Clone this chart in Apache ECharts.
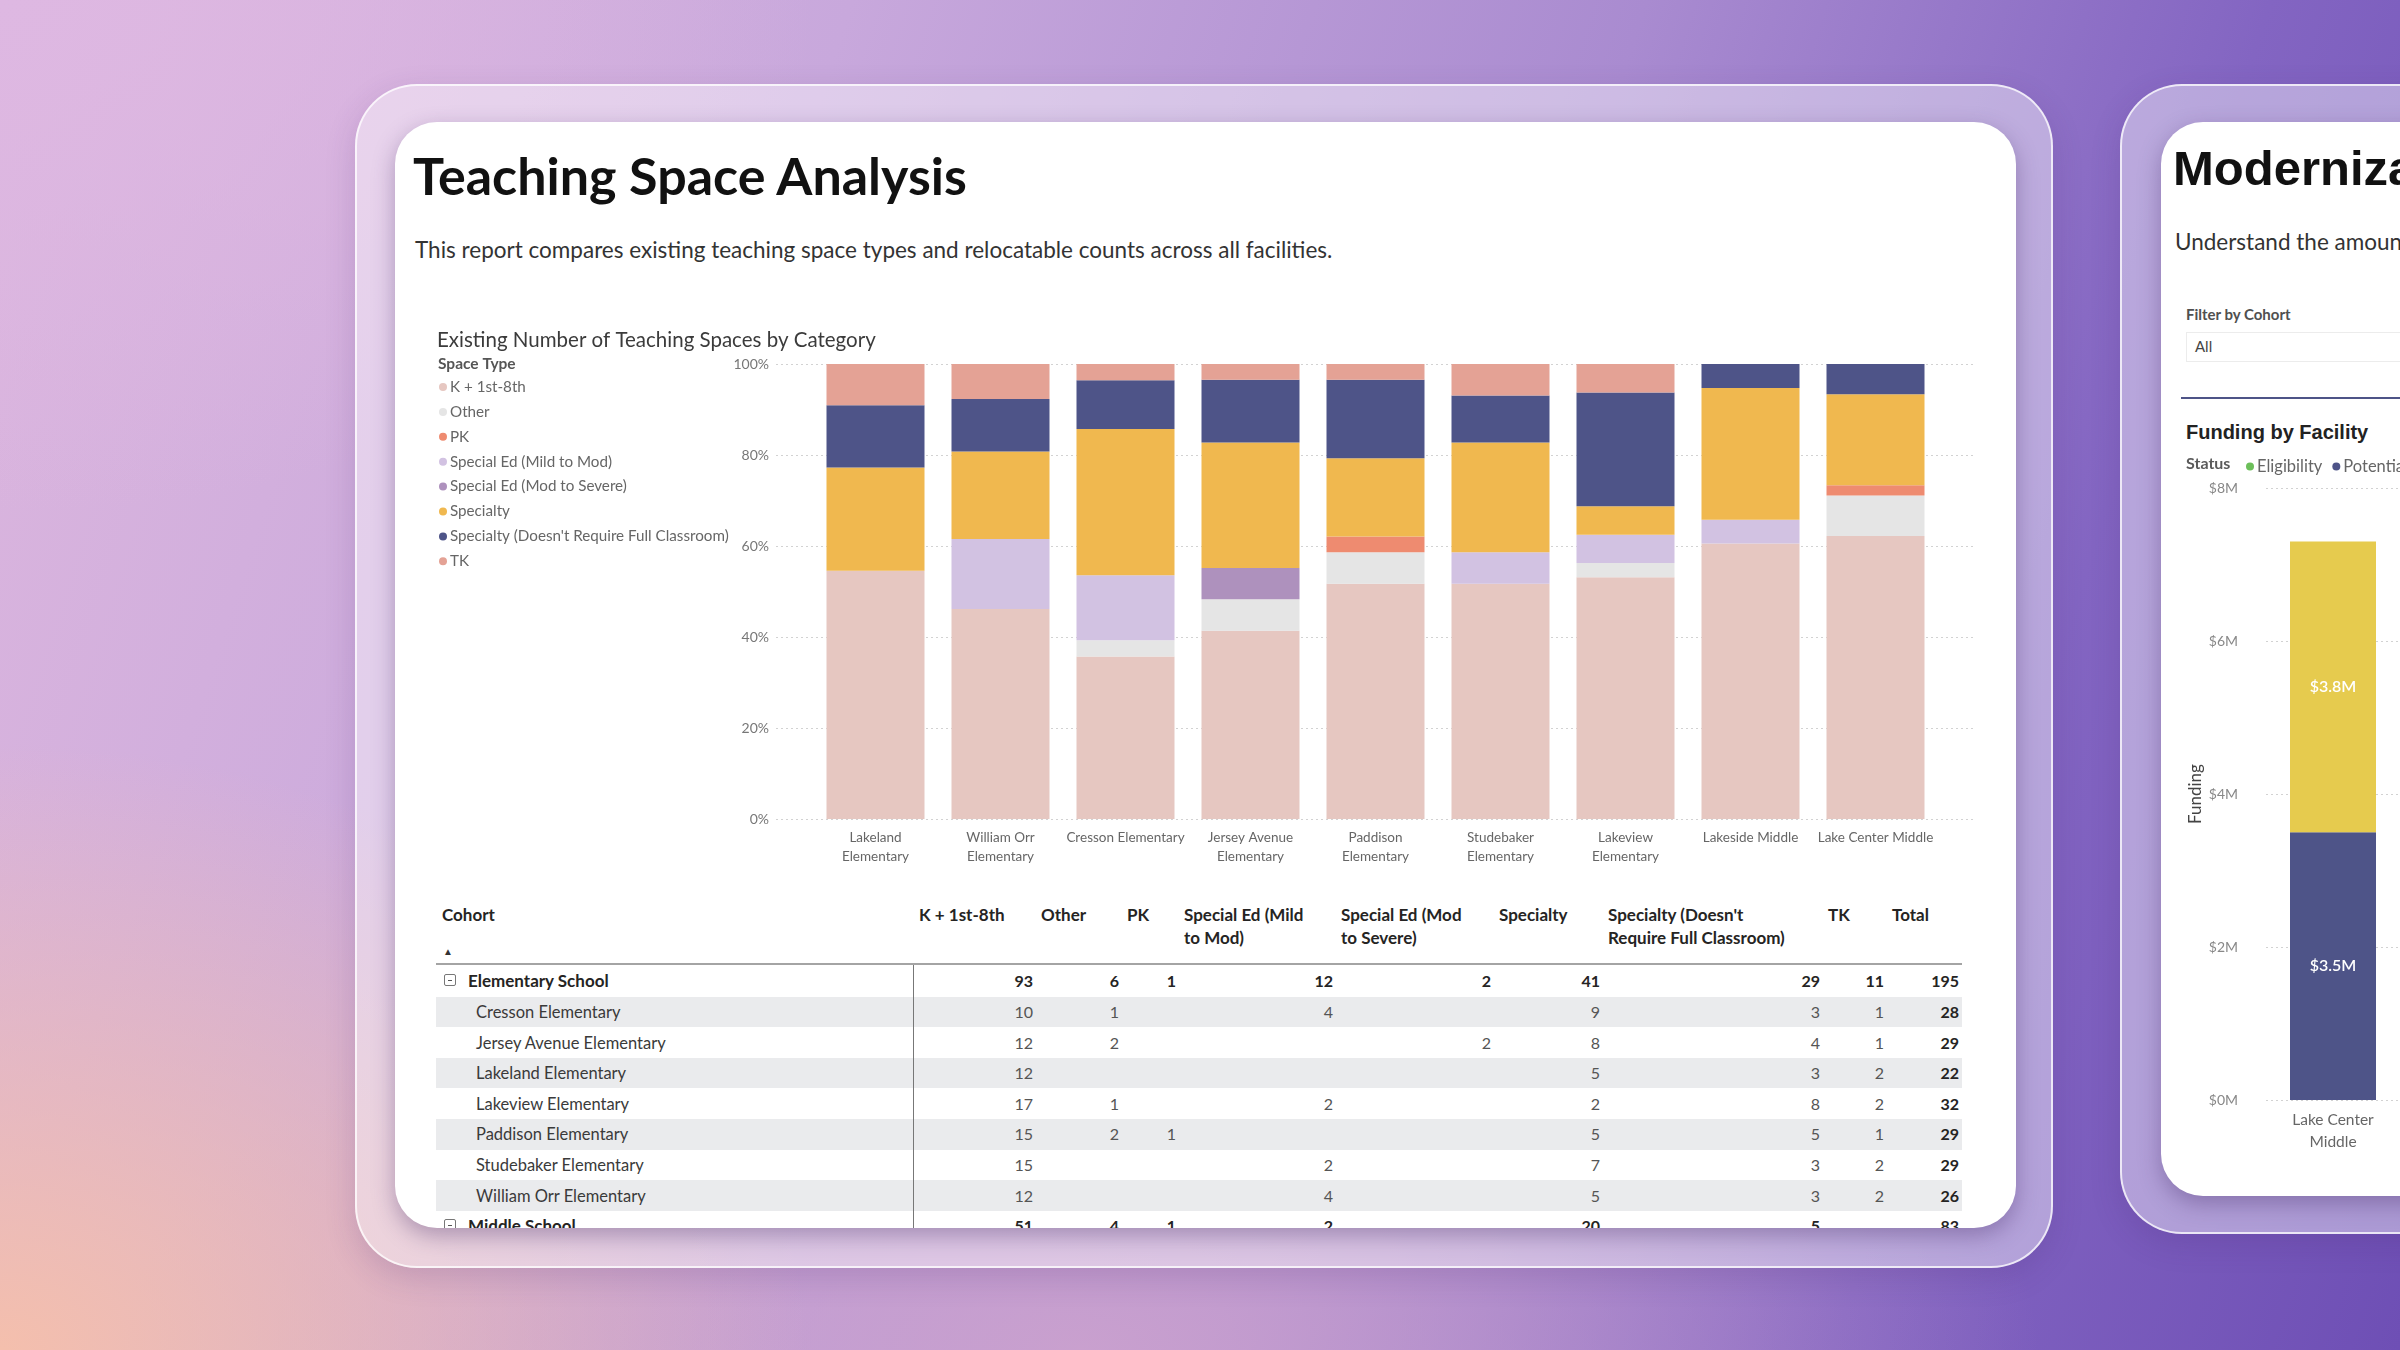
<!DOCTYPE html>
<html>
<head>
<meta charset="utf-8">
<script src="https://cdn.jsdelivr.net/npm/echarts@6/dist/echarts.min.js"></script>
<style>
  html, body { margin: 0; padding: 0; }
  body {
    width: 2400px; height: 1350px; overflow: hidden; position: relative;
    font-family: "Segoe UI", Lato, "Noto Sans", sans-serif;
    background:
      radial-gradient(ellipse 45% 60% at 0% 100%, rgba(246,192,170,0.95), rgba(246,192,170,0) 75%),
      radial-gradient(ellipse 40% 45% at 0% 0%, rgba(222,184,226,1), rgba(222,184,226,0) 85%),
      radial-gradient(ellipse 50% 40% at 45% 100%, rgba(204,162,206,0.9), rgba(204,162,206,0) 80%),
      linear-gradient(108deg, #DCB6DE 0%, #C8A8DC 30%, #A98BD0 58%, #8365C2 80%, #6E4FB5 100%);
  }
  .panel {
    position: absolute; border-radius: 62px;
    background: rgba(255,255,255,0.42);
    border: 2px solid rgba(255,255,255,0.75);
    box-shadow: 0 10px 30px rgba(70,40,110,0.18);
  }
  .card {
    position: absolute; border-radius: 42px; background: #fff; overflow: hidden;
    box-shadow: 0 8px 22px rgba(60,35,95,0.35);
  }
  .abs { position: absolute; white-space: nowrap; }
  #chart { position: absolute; left: 0; top: 0; width: 2400px; height: 1350px; z-index: 5; pointer-events: none; }
</style>
</head>
<body>
<div class="panel" style="left:355px; top:84px; width:1694px; height:1180px;"></div>
<div class="panel" style="left:2120px; top:84px; width:420px; height:1146px;"></div>

<div class="card" id="leftCard" style="left:395px; top:122px; width:1621px; height:1106px;">
  <div id="pageLayer" style="position:absolute; left:-395px; top:-122px; width:2400px; height:1350px;">
    <div class="abs" style="left:413px; top:140px; font-size:52px; font-weight:700; color:#111; font-family:'Segoe UI', Lato, sans-serif; line-height:70px;">Teaching Space Analysis</div>
    <div class="abs" style="left:415px; top:236px; font-size:22.5px; color:#333; font-family:'Segoe UI', Lato, sans-serif; line-height:28px;">This report compares existing teaching space types and relocatable counts across all facilities.</div>
    <div id="table"></div>
  </div>
</div>

<div class="card" style="left:2161px; top:122px; width:420px; height:1074px;">
  <div style="position:absolute; left:-2161px; top:-122px; width:2600px; height:1350px;">
    <div class="abs" style="left:2173px; top:136px; font-size:49px; font-weight:700; color:#111; font-family:'Liberation Sans', Arial, sans-serif; line-height:64px;">Modernization Funding</div>
    <div class="abs" style="left:2175px; top:228px; font-size:22.5px; color:#333; font-family:Lato, sans-serif; line-height:28px;">Understand the amount of modernization funding</div>
    <div class="abs" style="left:2186px; top:304px; font-size:15px; font-weight:700; color:#505050; font-family:Lato, sans-serif; line-height:20px;">Filter by Cohort</div>
    <div class="abs" style="left:2186px; top:332px; width:400px; height:28px; border:1px solid #ececec; background:#fff;"></div>
    <div class="abs" style="left:2195px; top:336px; font-size:15px; color:#444; font-family:Lato, sans-serif; line-height:20px;">All</div>
    <div class="abs" style="left:2181px; top:397px; width:400px; height:2px; background:#4E5487;"></div>
    <div class="abs" style="left:2186px; top:419px; font-size:20px; font-weight:700; color:#222; font-family:'Liberation Sans', Arial, sans-serif; line-height:26px;">Funding by Facility</div>
  </div>
</div>

<div id="chart"></div>

<script>
// ---------------- data ----------------
const facilities = ['Lakeland Elementary', 'William Orr Elementary', 'Cresson Elementary', 'Jersey Avenue Elementary',
  'Paddison Elementary', 'Studebaker Elementary', 'Lakeview Elementary', 'Lakeside Middle', 'Lake Center Middle'];
const cohorts = ['Elementary School', 'Elementary School', 'Elementary School', 'Elementary School',
  'Elementary School', 'Elementary School', 'Elementary School', 'Middle School', 'Middle School'];
const spaceTypes = ['K + 1st-8th', 'Other', 'PK', 'Special Ed (Mild to Mod)', 'Special Ed (Mod to Severe)',
  'Specialty', "Specialty (Doesn't Require Full Classroom)", 'TK'];
const k18 = [12, 12, 10, 12, 15, 15, 17, 23, 28];
const other = [0, 0, 1, 2, 2, 0, 1, 0, 4];
const pk = [0, 0, 0, 0, 1, 0, 0, 0, 1];
const sedMild = [0, 4, 4, 0, 0, 2, 2, 2, 0];
const sedSevere = [0, 0, 0, 2, 0, 0, 0, 0, 0];
const specialty = [5, 5, 9, 8, 5, 7, 2, 11, 9];
const specialtyPartial = [3, 3, 3, 4, 5, 3, 8, 2, 3];
const tk = [2, 2, 1, 1, 1, 2, 2, 0, 0];
const spaceColors = ['#E6C7C1', '#E5E5E5', '#EE8B70', '#D2C2E2', '#AE91BD', '#F0B84F', '#4E5488', '#E4A295'];

const fundingFacilities = ['Lake Center Middle'];
const fundingStatus = ['Eligibility', 'Potential', 'Programmed'];
const fundingEligibility = [0];
const fundingPotential = [3.5];
const fundingProgrammed = [3.8];
const fundingColors = ['#6CBF5A', '#4E5488', '#E6CB4E'];

// ---------------- derived ----------------
const seriesCounts = [k18, other, pk, sedMild, sedSevere, specialty, specialtyPartial, tk];
const totals = facilities.map((f, i) => seriesCounts.reduce((s, arr) => s + arr[i], 0));

// ---------------- table ----------------
(function buildTable() {
  const host = document.getElementById('table');
  const colEdges = [436, 914, 1036, 1122, 1179, 1336, 1494, 1603, 1823, 1887, 1962];
  const headWidths = [110, 80, 50, 126, 126, 100, 182, 50, 70];
  const rowTop0 = 966, rowH = 30.6;
  const F = "'Segoe UI', Lato, sans-serif";
  let html = '';
  html += `<div class="abs" style="left:442px;top:903px;font:700 17px ${F};color:#252423;line-height:23px;">Cohort</div>`;
  html += `<div class="abs" style="left:443px;top:944px;font:10px ${F};color:#333;line-height:14px;">&#9650;</div>`;
  const heads = spaceTypes.concat(['Total']);
  heads.forEach((h, j) => {
    const l = colEdges[j + 1];
    html += `<div style="position:absolute;left:${l + 5}px;top:903px;width:${headWidths[j]}px;font:700 17px ${F};color:#252423;line-height:23px;white-space:normal;">${h}</div>`;
  });
  html += `<div class="abs" style="left:436px;top:963px;width:1526px;height:2px;background:#a4a4a4;"></div>`;
  const groups = [...new Set(cohorts)];
  const rows = [];
  groups.forEach(g => {
    const idx = facilities.map((f, i) => i).filter(i => cohorts[i] === g)
      .sort((a, b) => facilities[a].localeCompare(facilities[b]));
    const vals = seriesCounts.map(arr => idx.reduce((s, i) => s + arr[i], 0));
    rows.push({ name: g, group: true, vals });
    idx.forEach(i => rows.push({ name: facilities[i], group: false, vals: seriesCounts.map(arr => arr[i]) }));
  });
  rows.forEach((row, r) => {
    const top = rowTop0 + r * rowH;
    if (r % 2 === 1) html += `<div class="abs" style="left:436px;top:${top}px;width:1526px;height:${rowH}px;background:#EAEBED;"></div>`;
    const cy = top + rowH / 2 - 11;
    if (row.group) {
      html += `<div class="abs" style="left:444px;top:${cy + 4}px;width:10px;height:10px;border:1px solid #777;border-radius:2px;"></div>`;
      html += `<div class="abs" style="left:448px;top:${cy + 10}px;width:4px;height:1px;background:#555;"></div>`;
      html += `<div class="abs" style="left:468px;top:${cy}px;font:700 17px ${F};color:#252423;line-height:22px;">${row.name}</div>`;
    } else {
      html += `<div class="abs" style="left:476px;top:${cy}px;font:16.5px ${F};color:#3a3a3a;line-height:22px;">${row.name}</div>`;
    }
    const total = row.vals.reduce((s, v) => s + v, 0);
    row.vals.concat([total]).forEach((v, j) => {
      if (!v) return;
      const r2 = colEdges[j + 2];
      const bold = row.group || j === row.vals.length;
      html += `<div class="abs" style="left:${r2 - 120}px;width:117px;text-align:right;top:${cy}px;font:${bold ? 700 : 400} 16px ${F};color:${bold ? '#252423' : '#555'};line-height:22px;">${v}</div>`;
    });
  });
  html += `<div class="abs" style="left:913px;top:965px;width:1px;height:300px;background:#777;"></div>`;
  host.innerHTML = html;
})();

// ---------------- chart ----------------
const chart = echarts.init(document.getElementById('chart'), null, { renderer: 'canvas' });
const pct = (arr) => arr.map((v, i) => +(v / totals[i] * 100).toFixed(4));
const dotted = { show: true, lineStyle: { color: '#d2d2d2', type: [2, 3], width: 1 } };

const mainSeries = spaceTypes.map((name, k) => ({
  name, type: 'bar', stack: 'space', xAxisIndex: 0, yAxisIndex: 0,
  barCategoryGap: '21.6%', data: pct(seriesCounts[k]),
  itemStyle: { color: spaceColors[k] }, emphasis: { disabled: true }
}));
const fundingSeries = [fundingEligibility, fundingPotential, fundingProgrammed].map((arr, k) => ({
  name: fundingStatus[k], type: 'bar', stack: 'fund', xAxisIndex: 2, yAxisIndex: 2,
  barWidth: 86, data: arr, itemStyle: { color: fundingColors[k] }, emphasis: { disabled: true },
  label: { show: k > 0, position: 'inside', color: '#fff', fontSize: 16, fontWeight: 600,
    fontFamily: 'Lato, sans-serif', formatter: p => '$' + p.value + 'M' }
}));

chart.setOption({
  animation: false,
  textStyle: { fontFamily: "'Segoe UI', Lato, sans-serif" },
  title: [
    { text: 'Existing Number of Teaching Spaces by Category', left: 432, top: 325,
      textStyle: { fontSize: 20.5, fontWeight: 400, color: '#3b3b3b' } },
    { text: 'Space Type', left: 433, top: 351, textStyle: { fontSize: 15.5, fontWeight: 700, color: '#555' } },
    { text: 'Status', left: 2181, top: 451, textStyle: { fontSize: 16, fontWeight: 700, color: '#5a5a5a' } }
  ],
  legend: [
    { data: spaceTypes, orient: 'vertical', left: 434, top: 374, icon: 'circle', itemWidth: 8, itemHeight: 8,
      itemGap: 8.9, textStyle: { fontSize: 15.2, color: '#666', lineHeight: 16, padding: [0, 0, 0, -2] },
      selectedMode: false },
    { data: fundingStatus, orient: 'horizontal', left: 2241, top: 453, width: 700, icon: 'circle', itemWidth: 8, itemHeight: 8,
      itemGap: 10, textStyle: { fontSize: 16.5, color: '#666', lineHeight: 16, padding: [0, 0, 0, -2] },
      selectedMode: false }
  ],
  grid: [
    { left: 813, top: 364, width: 1125, height: 455 },
    { left: 776, top: 364, width: 1200, height: 455 },
    { left: 2266, top: 488, width: 134, height: 612 }
  ],
  xAxis: [
    { type: 'category', gridIndex: 0, data: facilities, axisLine: { show: false }, axisTick: { show: false },
      axisLabel: { color: '#666', fontSize: 13.5, lineHeight: 19, margin: 9, interval: 0,
        formatter: n => n.length > 18 ? n.replace(/ (\S+)$/, '\n$1') : n } },
    { type: 'category', gridIndex: 1, data: facilities, show: false },
    { type: 'category', gridIndex: 2, data: fundingFacilities, axisLine: { show: false }, axisTick: { show: false },
      axisLabel: { color: '#666', fontSize: 15.5, lineHeight: 22, margin: 9, fontFamily: 'Lato, sans-serif',
        formatter: n => n.replace(/ (\S+)$/, '\n$1') } }
  ],
  yAxis: [
    { type: 'value', gridIndex: 0, min: 0, max: 100, show: false },
    { type: 'value', gridIndex: 1, min: 0, max: 100, interval: 20, axisLine: { show: false }, axisTick: { show: false },
      axisLabel: { color: '#777', fontSize: 14, margin: 7, formatter: '{value}%' }, splitLine: dotted },
    { type: 'value', gridIndex: 2, min: 0, max: 8, interval: 2, axisLine: { show: false }, axisTick: { show: false },
      axisLabel: { color: '#888', fontSize: 14, margin: 28, formatter: v => '$' + v + 'M' }, splitLine: dotted,
      name: 'Funding', nameLocation: 'middle', nameGap: 62,
      nameTextStyle: { color: '#444', fontSize: 17 } }
  ],
  series: mainSeries.concat(fundingSeries)
});
</script>
</body>
</html>
